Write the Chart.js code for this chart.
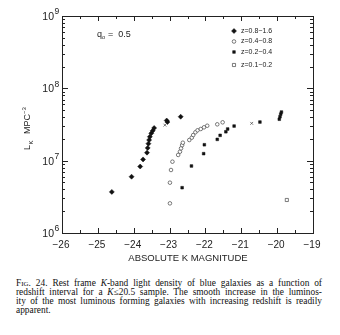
<!DOCTYPE html>
<html>
<head>
<meta charset="utf-8">
<script src="https://cdn.jsdelivr.net/npm/chart.js@4.4.0/dist/chart.umd.min.js"></script>
<style>
  body { margin: 0; background: #fff; }
  #wrap { position: relative; width: 340px; height: 335px; }
  #caption {
    position: absolute; left: 16px; top: 279px; width: 306px;
    font-family: "Liberation Serif", "DejaVu Serif", serif;
    font-size: 9.4px; line-height: 9px; color: #111;
  }
  #caption div { text-align: justify; text-align-last: justify; white-space: nowrap; }
  #caption div.last { text-align-last: left; }
  .sc { font-variant: small-caps; }
</style>
</head>
<body>
<div id="wrap">
  <canvas id="chart1" width="340" height="268"></canvas>
  <div id="caption">
    <div><span class="sc">Fig</span>. 24. Rest frame <i>K</i>-band light density of blue galaxies as a function of</div>
    <div>redshift interval for a <i>K</i>≤20.5 sample. The smooth increase in the luminos-</div>
    <div>ity of the most luminous forming galaxies with increasing redshift is readily</div>
    <div class="last">apparent.</div>
  </div>
</div>
<script>
// absolute K magnitude (x) and light density L_K (y) for each redshift bin
const magHigh = [-24.61, -24.06, -23.82, -23.74, -23.63, -23.61, -23.59, -23.57, -23.55, -23.51, -23.47, -23.43, -23.08, -23.06, -22.69];
const lumHigh = [3.7e6, 6.0e6, 8.3e6, 1.04e7, 1.29e7, 1.50e7, 1.72e7, 1.93e7, 2.14e7, 2.39e7, 2.59e7, 2.83e7, 3.59e7, 3.42e7, 4.05e7];

const magMid = [-22.99, -22.99, -22.96, -22.92, -22.76, -22.71, -22.68, -22.65, -22.63, -22.45, -22.38, -22.34, -22.28, -22.22, -22.13, -22.04, -21.95, -21.67, -21.52];
const lumMid = [2.57e6, 4.96e6, 7.43e6, 9.68e6, 1.20e7, 1.33e7, 1.48e7, 1.64e7, 1.77e7, 1.93e7, 2.08e7, 2.26e7, 2.47e7, 2.63e7, 2.74e7, 2.89e7, 3.04e7, 3.18e7, 3.39e7];

const magLow = [-22.65, -22.39, -22.05, -22.03, -21.67, -21.59, -21.43, -21.38, -21.20, -20.48, -19.94, -19.92, -19.90, -19.88];
const lumLow = [4.23e6, 8.44e6, 1.25e7, 1.66e7, 1.97e7, 2.24e7, 2.51e7, 2.74e7, 3.01e7, 3.42e7, 3.74e7, 4.05e7, 4.4e7, 4.7e7];

const magNear = [-19.73];
const lumNear = [2.86e6];

// two small crosses that are not in the key
const magCross = [-23.13, -20.71];
const lumCross = [3.1e7, 3.28e7];

const labels = ['z=0.8\u22121.6', 'z=0.4\u22120.8', 'z=0.2\u22120.4', 'z=0.1\u22120.2'];
const xTicks = [-26, -25, -24, -23, -22, -21, -20, -19];
const yTicks = [6, 7, 8, 9];

function pts(xs, ys) {
    return xs.map((x, i) => ({x: x, y: ys[i]}));
}

const FONT = '"Liberation Sans", Arial, sans-serif';

function drawMarker(ctx, ds, x, y) {
    Chart.helpers.drawPoint(ctx, {
        pointStyle: ds.pointStyle, radius: ds.pointRadius, borderWidth: ds.borderWidth, rotation: 0
    }, x, y);
}

// frame, inward ticks on all sides, tick labels, titles, key and q0 note
const framePlugin = {
    id: 'frame',
    afterDatasetsDraw(chart) {
        const ctx = chart.ctx;
        const xs = chart.scales.x, ys = chart.scales.y;
        const a = chart.chartArea;
        ctx.save();
        ctx.strokeStyle = '#222';
        ctx.lineWidth = 1;
        ctx.strokeRect(a.left + 0.5, a.top + 0.5, a.right - a.left, a.bottom - a.top);

        // x ticks every half magnitude
        for (let v = -26; v <= -19; v += 0.5) {
            const px = Math.round(xs.getPixelForValue(v)) + 0.5;
            const len = Number.isInteger(v) ? 5 : 3;
            ctx.beginPath();
            ctx.moveTo(px, a.bottom); ctx.lineTo(px, a.bottom - len);
            ctx.moveTo(px, a.top); ctx.lineTo(px, a.top + len);
            ctx.stroke();
        }
        // y ticks, decades and 2..9
        for (let d = 6; d <= 9; d++) {
            for (let m = 1; m <= 9; m++) {
                if (d === 9 && m > 1) break;
                const py = Math.round(ys.getPixelForValue(m * Math.pow(10, d))) + 0.5;
                const len = m === 1 ? 6 : 3;
                ctx.beginPath();
                ctx.moveTo(a.left, py); ctx.lineTo(a.left + len, py);
                ctx.moveTo(a.right, py); ctx.lineTo(a.right - len, py);
                ctx.stroke();
            }
        }

        ctx.fillStyle = '#222';
        ctx.font = '10px ' + FONT;
        ctx.textAlign = 'center';
        ctx.textBaseline = 'middle';
        xTicks.forEach(v => {
            ctx.fillText('\u2212' + Math.abs(v), xs.getPixelForValue(v) - 1, a.bottom + 12);
        });
        yTicks.forEach(d => {
            const py = ys.getPixelForValue(Math.pow(10, d));
            ctx.font = '10.5px ' + FONT;
            ctx.textAlign = 'right';
            ctx.fillText('10', a.left - 8, py + 1);
            ctx.font = '8.5px ' + FONT;
            ctx.textAlign = 'left';
            ctx.fillText(String(d), a.left - 7.5, py - 4);
        });

        // x title
        ctx.font = '9.5px ' + FONT;
        ctx.textAlign = 'center';
        ctx.fillText('ABSOLUTE K MAGNITUDE', 188, a.bottom + 25);

        // y title, rotated
        ctx.save();
        ctx.translate(28, 126);
        ctx.rotate(-Math.PI / 2);
        ctx.textAlign = 'left';
        ctx.font = '9px ' + FONT;
        ctx.fillText('L', -24, 0);
        ctx.font = '6px ' + FONT;
        ctx.fillText('K', -18.5, 3);
        ctx.font = '9px ' + FONT;
        ctx.fillText('MPC', -8, 0);
        ctx.font = '6px ' + FONT;
        ctx.fillText('\u22123', 12, -4);
        ctx.restore();

        // q0 note
        ctx.textAlign = 'left';
        ctx.font = '9px ' + FONT;
        ctx.fillText('q', 97, 35);
        ctx.font = '5.5px ' + FONT;
        ctx.fillText('o', 102, 37.5);
        ctx.font = '9px ' + FONT;
        ctx.fillText('=  0.5', 108, 35);

        // key
        const rows = [31, 41.5, 52, 65];
        chart.data.datasets.slice(0, 4).forEach((ds, i) => {
            ctx.fillStyle = ds.backgroundColor;
            ctx.strokeStyle = ds.borderColor;
            ctx.lineWidth = ds.borderWidth;
            drawMarker(ctx, ds, 234, rows[i]);
            ctx.fillStyle = '#222';
            ctx.font = '7px ' + FONT;
            ctx.fillText(labels[i], 241, rows[i]);
        });
        ctx.restore();
    }
};

new Chart(document.getElementById('chart1').getContext('2d'), {
    type: 'scatter',
    data: {
        datasets: [
            {label: labels[0], data: pts(magHigh, lumHigh), pointStyle: 'rectRot', pointRadius: 2.5,
             backgroundColor: '#111', borderColor: '#111', borderWidth: 0.5},
            {label: labels[1], data: pts(magMid, lumMid), pointStyle: 'circle', pointRadius: 1.8,
             backgroundColor: '#fff', borderColor: '#444', borderWidth: 0.7},
            {label: labels[2], data: pts(magLow, lumLow), pointStyle: 'rect', pointRadius: 1.9,
             backgroundColor: '#111', borderColor: '#111', borderWidth: 0.5},
            {label: labels[3], data: pts(magNear, lumNear), pointStyle: 'rect', pointRadius: 2.2,
             backgroundColor: '#fff', borderColor: '#444', borderWidth: 0.7},
            {label: 'x', data: pts(magCross, lumCross), pointStyle: 'crossRot', pointRadius: 2,
             backgroundColor: '#444', borderColor: '#444', borderWidth: 0.7}
        ]
    },
    options: {
        responsive: false,
        animation: false,
        devicePixelRatio: 1,
        layout: {padding: {left: 62, top: 16, right: 27, bottom: 35}},
        plugins: {legend: {display: false}, tooltip: {enabled: false}},
        scales: {
            x: {type: 'linear', min: -26, max: -19, display: false},
            y: {type: 'logarithmic', min: 1e6, max: 1e9, display: false}
        }
    },
    plugins: [framePlugin]
});
</script>
</body>
</html>
